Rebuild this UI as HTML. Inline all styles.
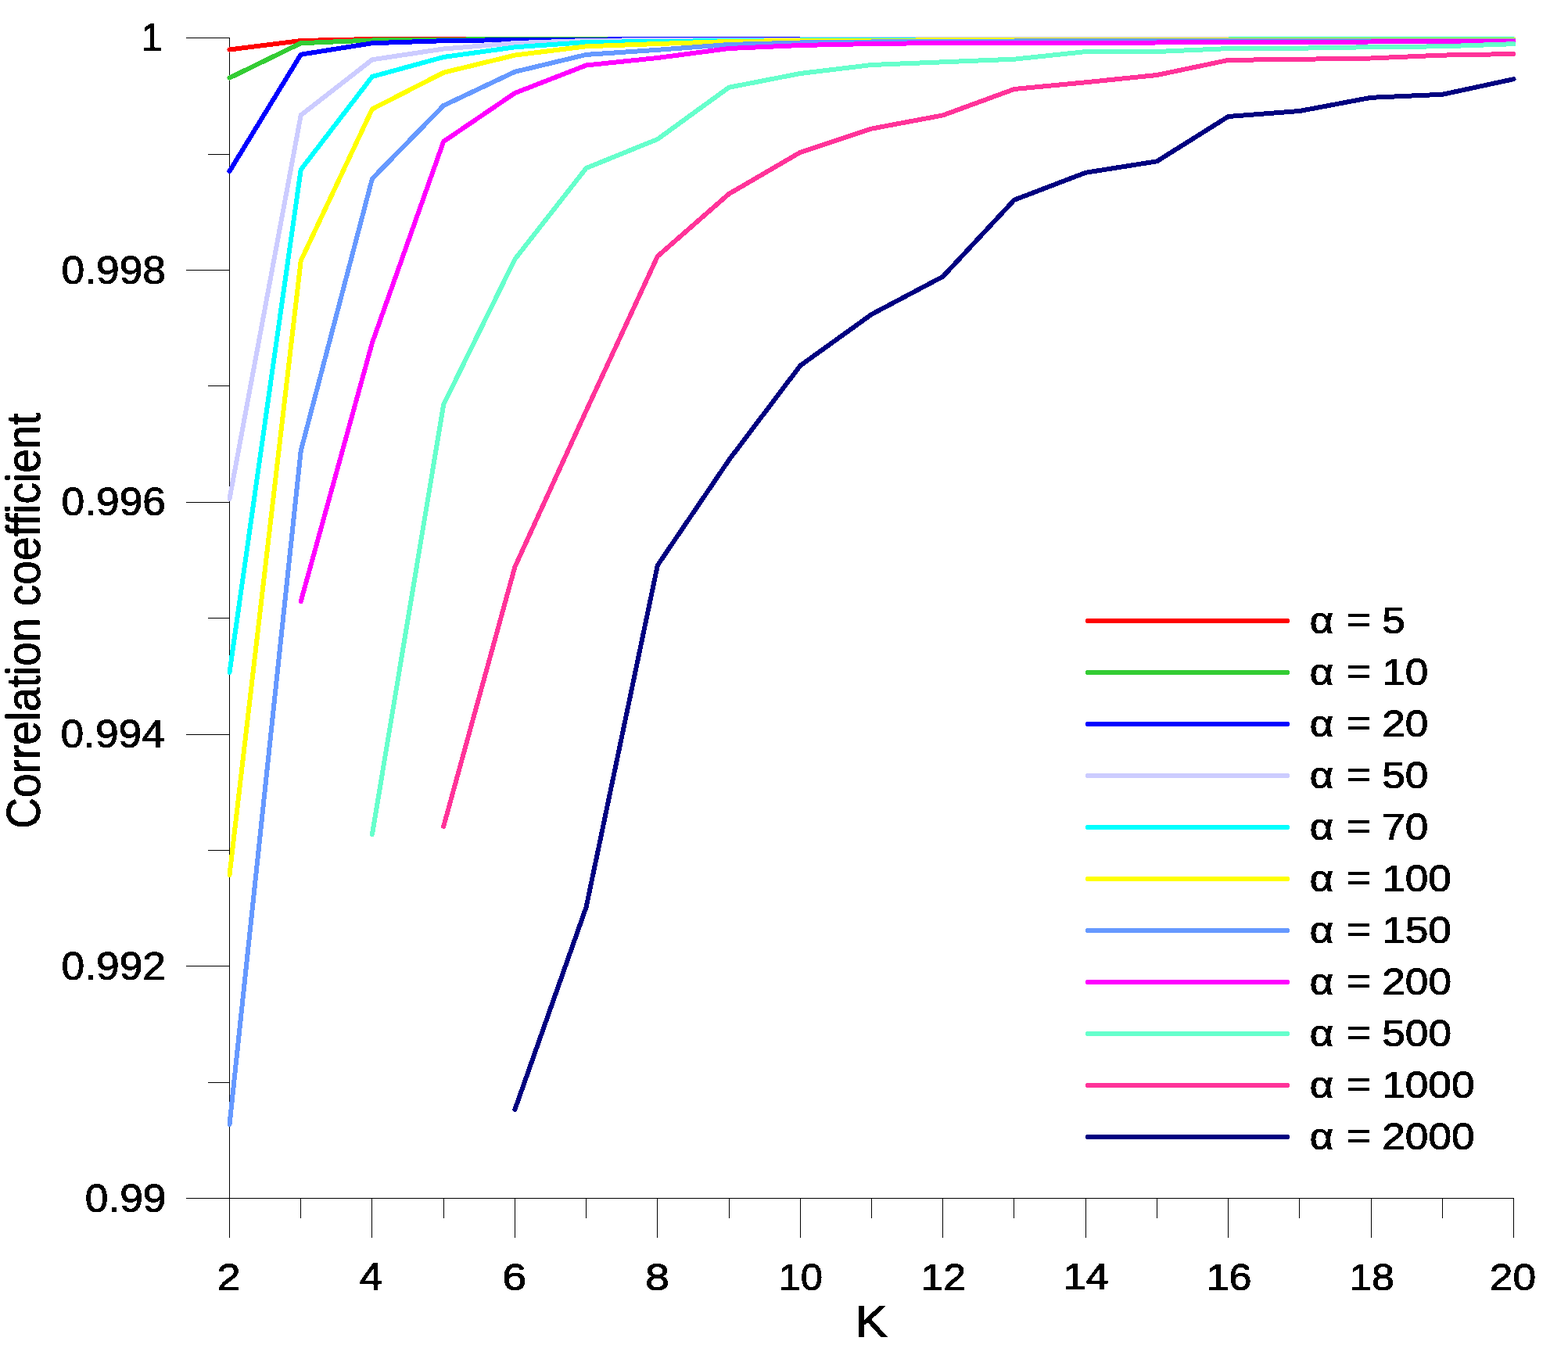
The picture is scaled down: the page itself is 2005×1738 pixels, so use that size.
<!DOCTYPE html><html><head><meta charset="utf-8"><title>Correlation coefficient vs K</title>
<style>html,body{margin:0;padding:0;background:#fff;width:2005px;height:1738px;overflow:hidden}svg{display:block}text{font-family:"Liberation Sans",Arial,sans-serif;fill:#000;stroke:#000;stroke-width:1px;font-variant-ligatures:none}</style></head><body>
<svg width="2005" height="1738" viewBox="0 0 2005 1738">
<defs><filter id="bin" x="-20%" y="-20%" width="140%" height="140%" color-interpolation-filters="sRGB"><feComponentTransfer><feFuncA type="discrete" tableValues="0 1"/></feComponentTransfer></filter></defs>
<rect width="2005" height="1738" fill="#fff"/>
<path d="M293.5 48V1583M238 1532.5H1935.5M238 48.5H294M266 197.5H294M238 345.5H294M266 493.5H294M238 642.5H294M266 790.5H294M238 939.5H294M266 1087.5H294M238 1235.5H294M266 1384.5H294M238 1532.5H294M384.5 1532V1558M475.5 1532V1583M567.5 1532V1558M658.5 1532V1583M749.5 1532V1558M840.5 1532V1583M932.5 1532V1558M1023.5 1532V1583M1114.5 1532V1558M1205.5 1532V1583M1296.5 1532V1558M1388.5 1532V1583M1479.5 1532V1558M1570.5 1532V1583M1661.5 1532V1558M1753.5 1532V1583M1844.5 1532V1558M1935.5 1532V1583" stroke="#000" stroke-width="1" fill="none"/>
<g fill="none" stroke-width="6" stroke-linecap="round" stroke-linejoin="round" shape-rendering="crispEdges">
<polyline stroke="#FF0000" points="293.5,63.5 384.722,52 475.944,50 567.167,50 658.389,50 749.611,50 840.833,50 932.056,50 1023.278,50 1114.5,50 1205.722,50 1296.944,50 1388.167,50 1479.389,50 1570.611,50 1661.833,50 1753.056,50 1844.278,50 1935.5,50"/>
<polyline stroke="#33CC33" points="293.5,99.6 384.722,55.2 475.944,51.5 567.167,50.6 658.389,50.3 749.611,50 840.833,50 932.056,50 1023.278,50 1114.5,50 1205.722,50 1296.944,50 1388.167,50 1479.389,50 1570.611,50 1661.833,50 1753.056,50 1844.278,50 1935.5,50"/>
<polyline stroke="#0000FF" points="293.5,219 384.722,69.7 475.944,55.2 567.167,52.2 658.389,51 749.611,50.6 840.833,50.3 932.056,50 1023.278,50 1114.5,50 1205.722,50 1296.944,50 1388.167,50 1479.389,50 1570.611,50 1661.833,50 1753.056,50 1844.278,50 1935.5,50"/>
<polyline stroke="#CCCCFF" points="293.5,638 384.722,147.3 475.944,76.3 567.167,62.5 658.389,55.1 749.611,52 840.833,51 932.056,51 1023.278,50.5 1114.5,50 1205.722,50 1296.944,50 1388.167,50 1479.389,50 1570.611,50 1661.833,50 1753.056,50 1844.278,50 1935.5,50"/>
<polyline stroke="#00FFFF" points="293.5,860 384.722,217 475.944,98 567.167,73 658.389,60.3 749.611,54 840.833,53 932.056,52 1023.278,51.5 1114.5,51 1205.722,50.8 1296.944,50.6 1388.167,50.5 1479.389,50.5 1570.611,50.5 1661.833,50.4 1753.056,50.4 1844.278,50.4 1935.5,50.4"/>
<polyline stroke="#FFFF00" points="293.5,1119 384.722,333.5 475.944,139.5 567.167,92.8 658.389,70.6 749.611,59.3 840.833,56 932.056,53 1023.278,52 1114.5,52 1205.722,51.2 1296.944,51 1388.167,51 1479.389,50.8 1570.611,50.8 1661.833,50.7 1753.056,50.7 1844.278,50.7 1935.5,50.7"/>
<polyline stroke="#6699FF" points="293.5,1438 384.722,576.5 475.944,228.5 567.167,135 658.389,91.8 749.611,69.9 840.833,63.8 932.056,57 1023.278,54.5 1114.5,53.5 1205.722,52.8 1296.944,52.5 1388.167,52.2 1479.389,52 1570.611,51.8 1661.833,51.8 1753.056,51.7 1844.278,51.7 1935.5,51.7"/>
<polyline stroke="#FF00FF" points="384.722,769 475.944,438.4 567.167,181 658.389,119 749.611,83.5 840.833,74 932.056,62 1023.278,58 1114.5,56 1205.722,55 1296.944,55 1388.167,55 1479.389,54.5 1570.611,54.3 1661.833,53.8 1753.056,53.5 1844.278,53 1935.5,52.7"/>
<polyline stroke="#66FFCC" points="475.944,1067 567.167,517.5 658.389,331.5 749.611,215 840.833,178 932.056,111.8 1023.278,94 1114.5,83 1205.722,79.3 1296.944,75.7 1388.167,66.1 1479.389,66 1570.611,62.1 1661.833,61.7 1753.056,60.2 1844.278,59.3 1935.5,56.2"/>
<polyline stroke="#FF3399" points="567.167,1057 658.389,725 749.611,525.2 840.833,327.8 932.056,248 1023.278,194.8 1114.5,164.6 1205.722,147.4 1296.944,114 1388.167,105.3 1479.389,96 1570.611,76.9 1661.833,75.8 1753.056,74.5 1844.278,70.6 1935.5,69"/>
<polyline stroke="#000080" points="658.389,1419 749.611,1160 840.833,723 932.056,588.4 1023.278,467.6 1114.5,402 1205.722,353.7 1296.944,255.7 1388.167,220.8 1479.389,206.3 1570.611,149 1661.833,142 1753.056,124.8 1844.278,120.8 1935.5,101.2"/>
</g>
<g stroke-width="6" stroke-linecap="round" shape-rendering="crispEdges">
<path d="M1391 794H1646" stroke="#FF0000"/>
<path d="M1391 860H1646" stroke="#33CC33"/>
<path d="M1391 926H1646" stroke="#0000FF"/>
<path d="M1391 992H1646" stroke="#CCCCFF"/>
<path d="M1391 1058H1646" stroke="#00FFFF"/>
<path d="M1391 1124H1646" stroke="#FFFF00"/>
<path d="M1391 1190H1646" stroke="#6699FF"/>
<path d="M1391 1256H1646" stroke="#FF00FF"/>
<path d="M1391 1322H1646" stroke="#66FFCC"/>
<path d="M1391 1388H1646" stroke="#FF3399"/>
<path d="M1391 1454H1646" stroke="#000080"/>
</g>
<g filter="url(#bin)">
<text transform="translate(180.565 65) scale(0.978 1)" font-size="49.5">1</text>
<text transform="translate(78.484 362.698) scale(1.078 0.993)" font-size="49.5">0.998</text>
<text transform="translate(78.484 659.448) scale(1.078 0.993)" font-size="49.5">0.996</text>
<text transform="translate(77.406 956.198) scale(1.078 0.993)" font-size="49.5">0.994</text>
<text transform="translate(78.484 1252.948) scale(1.078 0.993)" font-size="49.5">0.992</text>
<text transform="translate(108.668 1549.698) scale(1.078 0.993)" font-size="49.5">0.99</text>
<text transform="translate(277.562 1650) scale(1.094 0.972)" font-size="49.5">2</text>
<text transform="translate(459.727 1650) scale(1.073 1)" font-size="49.5">4</text>
<text transform="translate(642.25 1650) scale(1.125 0.972)" font-size="49.5">6</text>
<text transform="translate(825.05 1650) scale(1.125 0.972)" font-size="49.5">8</text>
<text transform="translate(995.518 1650) scale(1.027 0.972)" font-size="49.5">10</text>
<text transform="translate(1177.562 1650) scale(1.046 0.972)" font-size="49.5">12</text>
<text transform="translate(1359.742 1649.028) scale(1.05 0.972)" font-size="49.5">14</text>
<text transform="translate(1542.711 1650) scale(1.05 0.972)" font-size="49.5">16</text>
<text transform="translate(1725.156 1650) scale(1.05 0.972)" font-size="49.5">18</text>
<text transform="translate(1904.846 1650) scale(1.077 0.972)" font-size="49.5">20</text>
<text transform="translate(0 810.4) scale(1.12 1.02)" font-size="47.5"><tspan x="1495.321">α</tspan> <tspan x="1537.286" dy="-1.5">=</tspan> <tspan x="1577.911" dy="1.5">5</tspan></text>
<text transform="translate(0 876.4) scale(1.12 1.02)" font-size="47.5"><tspan x="1495.321">α</tspan> <tspan x="1537.286" dy="-1.5">=</tspan> <tspan x="1577.804" dy="1.5">10</tspan></text>
<text transform="translate(0 942.4) scale(1.12 1.02)" font-size="47.5"><tspan x="1495.321">α</tspan> <tspan x="1537.286" dy="-1.5">=</tspan> <tspan x="1577.911" dy="1.5">20</tspan></text>
<text transform="translate(0 1008.4) scale(1.12 1.02)" font-size="47.5"><tspan x="1495.321">α</tspan> <tspan x="1537.286" dy="-1.5">=</tspan> <tspan x="1577.911" dy="1.5">50</tspan></text>
<text transform="translate(0 1074.4) scale(1.12 1.02)" font-size="47.5"><tspan x="1495.321">α</tspan> <tspan x="1537.286" dy="-1.5">=</tspan> <tspan x="1577.911" dy="1.5">70</tspan></text>
<text transform="translate(0 1140.4) scale(1.12 1.02)" font-size="47.5"><tspan x="1495.321">α</tspan> <tspan x="1537.286" dy="-1.5">=</tspan> <tspan x="1577.804" dy="1.5">100</tspan></text>
<text transform="translate(0 1206.4) scale(1.12 1.02)" font-size="47.5"><tspan x="1495.321">α</tspan> <tspan x="1537.286" dy="-1.5">=</tspan> <tspan x="1577.804" dy="1.5">150</tspan></text>
<text transform="translate(0 1272.4) scale(1.12 1.02)" font-size="47.5"><tspan x="1495.321">α</tspan> <tspan x="1537.286" dy="-1.5">=</tspan> <tspan x="1577.911" dy="1.5">200</tspan></text>
<text transform="translate(0 1338.4) scale(1.12 1.02)" font-size="47.5"><tspan x="1495.321">α</tspan> <tspan x="1537.286" dy="-1.5">=</tspan> <tspan x="1577.911" dy="1.5">500</tspan></text>
<text transform="translate(0 1404.4) scale(1.12 1.02)" font-size="47.5"><tspan x="1495.321">α</tspan> <tspan x="1537.286" dy="-1.5">=</tspan> <tspan x="1577.804" dy="1.5">1000</tspan></text>
<text transform="translate(0 1470.4) scale(1.12 1.02)" font-size="47.5"><tspan x="1495.321">α</tspan> <tspan x="1537.286" dy="-1.5">=</tspan> <tspan x="1577.911" dy="1.5">2000</tspan></text>
<text transform="translate(1093.179 1709.7) scale(1.13 1.024)" font-size="55.5">K</text>
<text transform="translate(51.096 1059.708) rotate(-90) scale(0.903 1.004)" font-size="61">Correlation coefficient</text>
</g>
</svg></body></html>
